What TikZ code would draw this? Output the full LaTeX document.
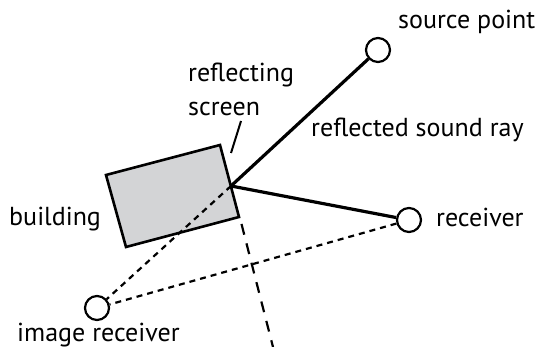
\documentclass[tikz,border=0pt]{standalone}
\usepackage{fontspec}
\setmainfont{PT Sans}
\begin{document}
\begin{tikzpicture}[x=1pt,y=-1pt,
  lbl/.style={anchor=base west,inner sep=0pt,font=\fontsize{26}{30}\selectfont},
  pt/.style={circle,draw,line width=2.2pt,fill=white,minimum size=24pt,inner sep=0pt},
  ray/.style={line width=3.2pt},
  shortdash/.style={line width=2.2pt,dash pattern=on 6pt off 5pt},
  longdash/.style={line width=2.2pt,dash pattern=on 11pt off 9pt},
  bld/.style={draw,line width=2.6pt,fill=bldgray,line join=miter}]
\definecolor{bldgray}{RGB}{211,212,214}
\useasboundingbox (0,0) rectangle (536,347);
% building
\draw[bld] (106,175) -- (220,145) -- (239,217) -- (126,247) -- cycle;
\coordinate (R) at (231,186);
% points
\node[pt] (src) at (378,50) {};
\node[pt] (rcv) at (409,220) {};
\node[pt] (img) at (97,308) {};
% screen extension
\coordinate (s1) at (241.5,224);
\coordinate (s2) at (273,347);
\draw[longdash] (s1) -- (s2);
% dashed image lines
\draw[shortdash] (R) -- (img);
\draw[shortdash] (rcv) -- (img);
% rays
\draw[ray] (R) -- (src);
\draw[ray] (R) -- (rcv);
% leader
\coordinate (l1) at (241,121);
\coordinate (l2) at (231,153);
\draw[line width=2pt] (l1) -- (l2);
% labels
\node[lbl] (tsrc) at (398,29) {source point};
\node[lbl] (trefl1) at (188,82) {reflecting};
\node[lbl] (trefl2) at (188,116) {screen};
\node[lbl] (tray) at (311,137) {reflected sound ray};
\node[lbl] (trcv) at (436,227) {receiver};
\node[lbl] (tbld) at (9,226) {building};
\node[lbl] (timg) at (17,342) {image receiver};
\end{tikzpicture}
\end{document}
